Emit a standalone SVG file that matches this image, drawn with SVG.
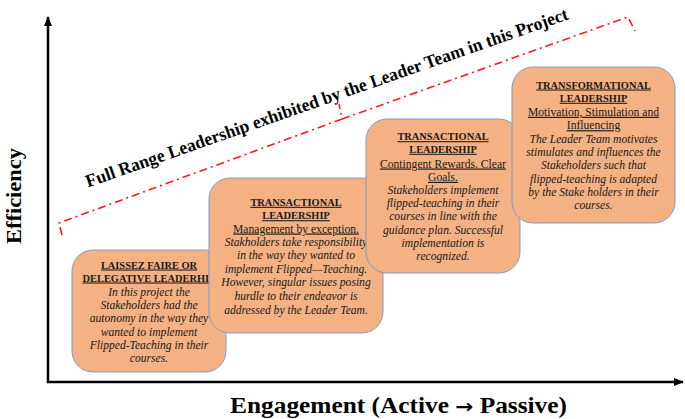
<svg xmlns="http://www.w3.org/2000/svg" width="685" height="419" viewBox="0 0 685 419">
<defs>
<marker id="arr" viewBox="0 0 10 8" refX="9" refY="4" markerWidth="4" markerHeight="3.2" orient="auto" markerUnits="strokeWidth">
<path d="M0,0 L10,4 L0,8 z" fill="#000"/>
</marker>
<style>
.box{fill:#F4B183;stroke:#7F9CCB;stroke-width:1}
.t{font-family:"Liberation Serif","Times New Roman",serif;fill:#1a1a1a;text-anchor:middle}
.h{font-size:10.4px;font-weight:bold;text-decoration:underline}
.u{font-size:11.6px;text-decoration:underline}
.i{font-size:11.6px;font-style:italic}
.lbl{font-family:"Liberation Serif","Times New Roman",serif;font-weight:bold;fill:#000}
.red{fill:none;stroke:#FF1A1A;stroke-width:1.6;stroke-dasharray:8 4 2 4}
</style>
</defs>
<rect width="685" height="419" fill="#fff"/>
<g id="connectors">
<line x1="48" y1="383" x2="48" y2="17" stroke="#000" stroke-width="2.5" marker-end="url(#arr)"/>
<line x1="47" y1="382" x2="683" y2="382" stroke="#000" stroke-width="2.5" marker-end="url(#arr)"/>
</g>
<g id="bracket">
<path class="red" d="M62,235 L59,223 L342,119 L339,104"/>
<path class="red" d="M342,119 L628,17 L635,31"/>
</g>
<g id="title">
<text class="lbl" font-size="18" transform="translate(88,187.5) rotate(-19.3)" textLength="510" lengthAdjust="spacingAndGlyphs">Full Range Leadership exhibited by the Leader Team in this Project</text>
</g>
<g id="y-label">
<text class="lbl" font-size="21" text-anchor="middle" transform="translate(21,196) rotate(-90)" textLength="96" lengthAdjust="spacingAndGlyphs">Efficiency</text>
</g>
<g id="x-label">
<text class="lbl" font-size="22.5" x="230" y="413" textLength="337" lengthAdjust="spacingAndGlyphs">Engagement (Active <tspan font-family="DejaVu Sans, sans-serif" font-size="19">→</tspan> Passive)</text>
</g>
<g id="node-laissez-faire">
<rect class="box" x="72" y="250" width="154" height="122" rx="21"/>
<text class="t h" x="149" y="268.5">LAISSEZ FAIRE OR</text>
<text class="t h" x="149" y="281.5">DELEGATIVE LEADERHIP</text>
<text class="t i" x="149" y="295.5">In this project the</text>
<text class="t i" x="149" y="308.5">Stakeholders had the</text>
<text class="t i" x="149" y="321.5">autonomy in the way they</text>
<text class="t i" x="149" y="335.5">wanted to implement</text>
<text class="t i" x="149" y="348.5">Flipped-Teaching in their</text>
<text class="t i" x="149" y="361.5">courses.</text>
</g>
<g id="node-transactional-exception">
<rect class="box" x="209" y="178" width="174" height="155" rx="21"/>
<text class="t h" x="296" y="205.8">TRANSACTIONAL</text>
<text class="t h" x="296" y="219.2">LEADERSHIP</text>
<text class="t u" x="296" y="232.5">Management by exception.</text>
<text class="t i" x="296" y="245.8">Stakholders take responsibility</text>
<text class="t i" x="296" y="259.2">in the way they wanted to</text>
<text class="t i" x="296" y="272.8">implement Flipped—Teaching.</text>
<text class="t i" x="296" y="286.2">However, singular issues posing</text>
<text class="t i" x="296" y="299.5">hurdle to their endeavor is</text>
<text class="t i" x="296" y="313.5">addressed by the Leader Team.</text>
</g>
<g id="node-transactional-rewards">
<rect class="box" x="366" y="119" width="154" height="154" rx="21"/>
<text class="t h" x="443" y="140.2">TRANSACTIONAL</text>
<text class="t h" x="443" y="152.8">LEADERSHIP</text>
<text class="t u" x="443" y="167.5">Contingent Rewards. Clear</text>
<text class="t u" x="443" y="180.8">Goals.</text>
<text class="t i" x="443" y="193.5">Stakeholders implement</text>
<text class="t i" x="443" y="206.8">flipped-teaching in their</text>
<text class="t i" x="443" y="220.2">courses in line with the</text>
<text class="t i" x="443" y="233.5">guidance plan. Successful</text>
<text class="t i" x="443" y="246.8">implementation is</text>
<text class="t i" x="443" y="260.2">recognized.</text>
</g>
<g id="node-transformational">
<rect class="box" x="512" y="67" width="163" height="156" rx="21"/>
<text class="t h" x="593.5" y="88.5">TRANSFORMATIONAL</text>
<text class="t h" x="593.5" y="101.8">LEADERSHIP</text>
<text class="t u" x="593.5" y="115.8">Motivation, Stimulation and</text>
<text class="t u" x="593.5" y="129.2">Influencing</text>
<text class="t i" x="593.5" y="142.5">The Leader Team motivates</text>
<text class="t i" x="593.5" y="155.8">stimulates and influences the</text>
<text class="t i" x="593.5" y="169.2">Stakeholders such that</text>
<text class="t i" x="593.5" y="182.5">flipped-teaching is adapted</text>
<text class="t i" x="593.5" y="195.8">by the Stake holders in their</text>
<text class="t i" x="593.5" y="209.2">courses.</text>
</g>
</svg>
